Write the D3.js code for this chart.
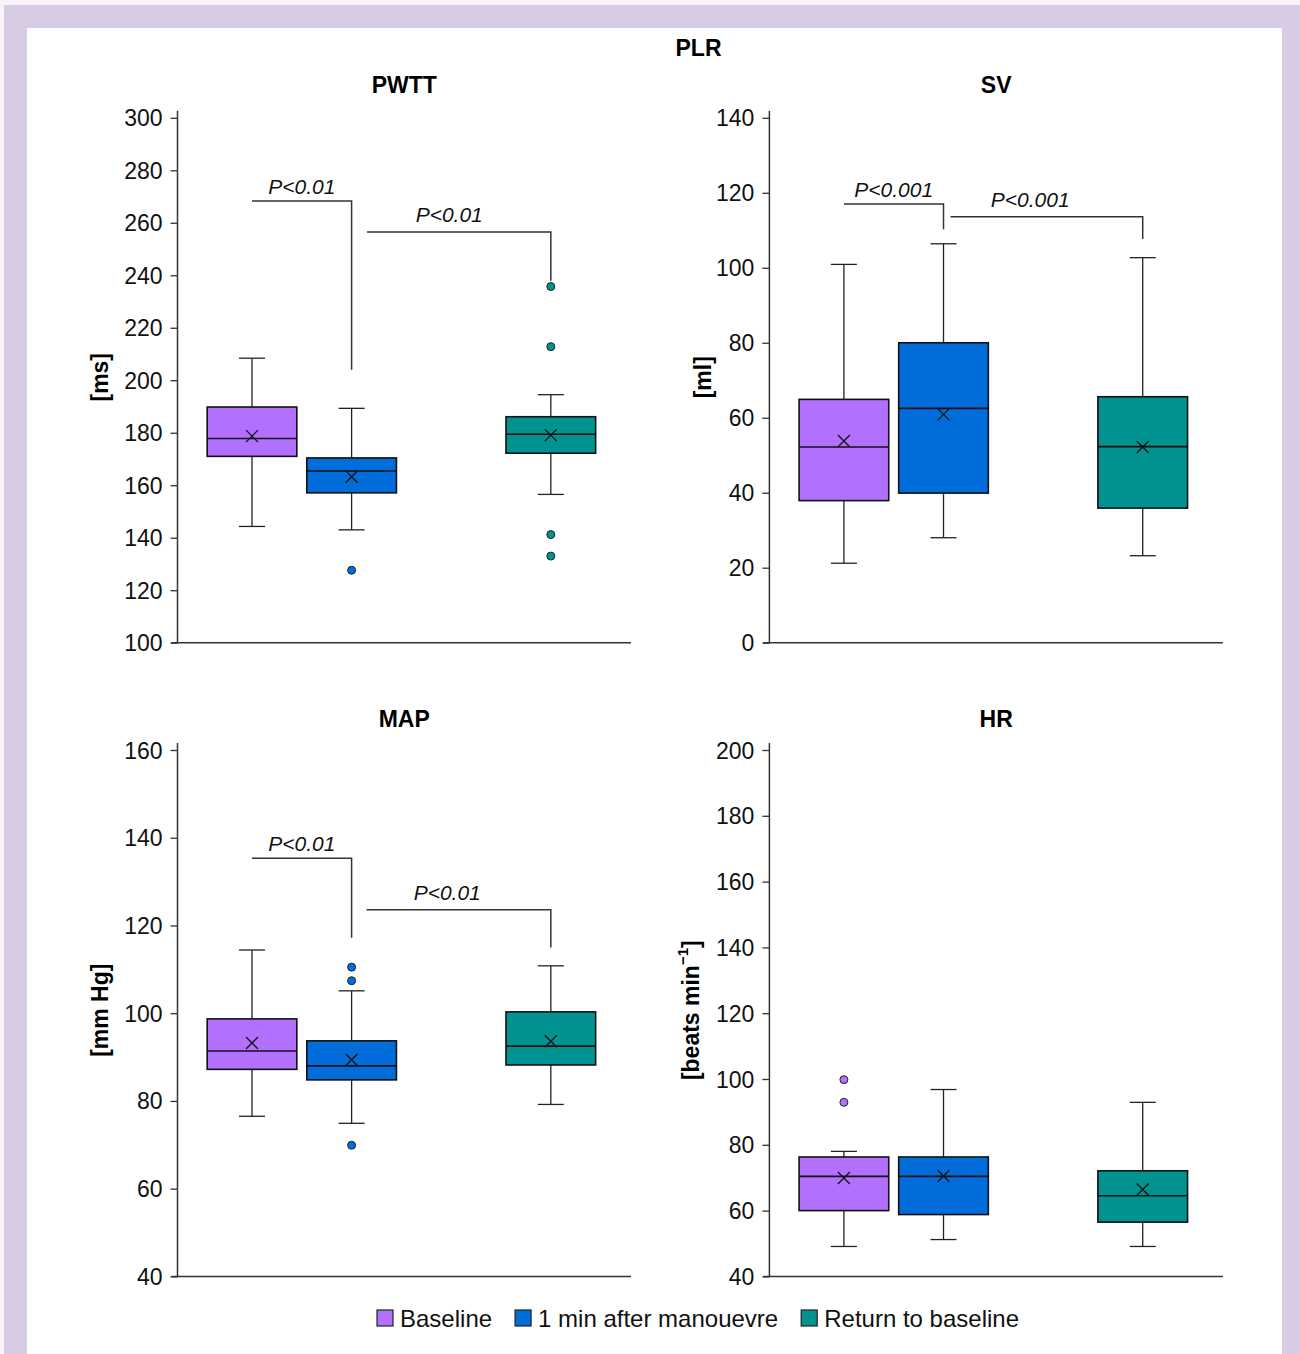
<!DOCTYPE html>
<html><head><meta charset="utf-8">
<script src="https://cdn.jsdelivr.net/npm/d3@7"></script>
<style>body{margin:0;background:#fff}svg{display:block}text{font-family:"Liberation Sans",Arial,sans-serif}</style>
</head><body><svg id="c" width="1300" height="1354"></svg>
<script>
// ---------- data ----------
const groups = ["Baseline", "1 min after manouevre", "Return to baseline"];
const groupPos = [0, 1, 3];
const groupColors = ["#b370fe", "#006ddb", "#00938f"];

const panelTitles = ["PWTT", "SV", "MAP", "HR"];
const panelUnits = ["[ms]", "[ml]", "[mm Hg]", "beats"];
const yDomains = [[100, 300], [0, 140], [40, 160], [40, 200]];
const yTicks = [
  [100,120,140,160,180,200,220,240,260,280,300],
  [0,20,40,60,80,100,120,140],
  [40,60,80,100,120,140,160],
  [40,60,80,100,120,140,160,180,200]
];
// box stats per group: [whiskerLow, Q1, median, Q3, whiskerHigh, mean]
const pwttStats = [[144.3,171,177.8,189.8,208.4,178.7],[143,157.1,165.4,170.4,189.3,163.2],[156.5,172.2,179.4,186.1,194.5,179.1]];
const svStats   = [[21.2,37.9,52.2,64.9,100.9,53.8],[28,39.9,62.5,80,106.4,60.9],[23.2,35.9,52.3,65.6,102.7,52.2]];
const mapStats  = [[76.5,87.2,91.4,98.7,114.4,93.2],[74.9,84.8,88,93.7,105.1,89.4],[79.2,88.2,92.5,100.3,110.8,93.6]];
const hrStats   = [[49.1,60,70.4,76.3,78,69.9],[51.2,58.8,70.4,76.3,96.8,70.5],[49.1,56.5,64.5,72.1,92.9,66.4]];
const pwttOutliers = [[], [127.6], [235.7,212.8,141.2,133]];
const svOutliers   = [[], [], []];
const mapOutliers  = [[], [110.5,107.4,69.9], []];
const hrOutliers   = [[99.8,92.9], [], []];
// significance brackets: x1, x2 (group units), y (level), yEnd (drop end), label, labelX, labelY
const pwttBrackets = [[0,1,268.3,204,"P<0.01",0.5,270.8],[1.155,3,256.5,237.9,"P<0.01",1.98,260.3]];
const svBrackets   = [[0,1,117,110.3,"P<0.001",0.5,118.9],[1.07,3,113.6,107.7,"P<0.001",1.87,116.2]];
const mapBrackets  = [[0,1,135.3,117.2,"P<0.01",0.5,137],[1.15,3,123.6,115,"P<0.01",1.96,125.8]];
const hrBrackets   = [];
const mainTitle = "PLR";

const allStats = [pwttStats, svStats, mapStats, hrStats];
const allOutliers = [pwttOutliers, svOutliers, mapOutliers, hrOutliers];
const allBrackets = [pwttBrackets, svBrackets, mapBrackets, hrBrackets];

// ---------- layout ----------
const svg = d3.select("#c");
svg.append("rect").attr("x",0).attr("y",0).attr("width",1300).attr("height",1354).attr("fill","#f7f3f9");
svg.append("rect").attr("x",4).attr("y",5).attr("width",1296).attr("height",1349).attr("fill","#d8cbe4");
svg.append("rect").attr("x",27).attr("y",28).attr("width",1255).attr("height",1326).attr("fill","#ffffff");

svg.append("text").attr("x",698.5).attr("y",56).attr("text-anchor","middle")
  .attr("font-size",23).attr("font-weight","bold").text(mainTitle);

const panels = [
  {ax:177.5, top:117.8, bottom:642.7, titleY:93, labX:100},
  {ax:769.4, top:117.8, bottom:642.7, titleY:93, labX:703},
  {ax:177.5, top:750, bottom:1276.4, titleY:727, labX:100},
  {ax:769.4, top:750, bottom:1276.4, titleY:727, labX:691}
];
const plotW = 453.5;
const axisColor = "#333";

panels.forEach((p, i) => {
  const g = svg.append("g").attr("transform", `translate(${p.ax},0)`);
  const x = d3.scaleLinear().domain([-0.748, 3.805]).range([0, plotW]);
  const y = d3.scaleLinear().domain(yDomains[i]).range([p.bottom, p.top]);

  // title
  g.append("text").attr("x", plotW/2).attr("y", p.titleY).attr("text-anchor","middle")
    .attr("font-size",23).attr("font-weight","bold").text(panelTitles[i]);

  // y axis
  const yAx = g.append("g").call(d3.axisLeft(y).tickValues(yTicks[i]).tickSize(7).tickPadding(8).tickSizeOuter(0));
  yAx.select(".domain").remove();
  yAx.selectAll(".tick line").attr("stroke", axisColor).attr("stroke-width",1.3);
  yAx.selectAll(".tick text").attr("font-size",23).attr("fill","#111")
    .attr("font-family",'"Liberation Sans",Arial,sans-serif').attr("dy","0.35em");
  g.append("line").attr("x1",0).attr("x2",0).attr("y1",p.top-7).attr("y2",p.bottom)
    .attr("stroke",axisColor).attr("stroke-width",1.5);
  g.append("line").attr("x1",-6).attr("x2",plotW).attr("y1",p.bottom).attr("y2",p.bottom)
    .attr("stroke",axisColor).attr("stroke-width",1.5);

  // y label
  const cy = (p.top + p.bottom)/2 - 3;
  const lab = svg.append("text").attr("transform",`translate(${p.labX},${cy}) rotate(-90)`)
    .attr("text-anchor","middle").attr("dominant-baseline","central")
    .attr("font-size",23).attr("font-weight","bold");
  if (panelUnits[i] === "beats") {
    lab.append("tspan").text("[beats min");
    lab.append("tspan").attr("font-size",15).attr("dy",-9).text("\u22121");
    lab.append("tspan").attr("dy",9).text("]");
  } else lab.text(panelUnits[i]);

  // boxes
  const bw = 0.9, capHalf = 13;
  allStats[i].forEach((s, k) => {
    const cx = x(groupPos[k]);
    const [lo, q1, med, q3, hi, mean] = s;
    const w = x(bw) - x(0);
    const gg = g.append("g");
    gg.append("line").attr("x1",cx).attr("x2",cx).attr("y1",y(hi)).attr("y2",y(q3)).attr("stroke","#222").attr("stroke-width",1.3);
    gg.append("line").attr("x1",cx).attr("x2",cx).attr("y1",y(q1)).attr("y2",y(lo)).attr("stroke","#222").attr("stroke-width",1.3);
    [hi, lo].forEach(v => gg.append("line").attr("x1",cx-capHalf).attr("x2",cx+capHalf).attr("y1",y(v)).attr("y2",y(v)).attr("stroke","#222").attr("stroke-width",1.3));
    gg.append("rect").attr("x",cx-w/2).attr("y",y(q3)).attr("width",w).attr("height",y(q1)-y(q3))
      .attr("fill",groupColors[k]).attr("stroke","#111").attr("stroke-width",1.6);
    gg.append("line").attr("x1",cx-w/2).attr("x2",cx+w/2).attr("y1",y(med)).attr("y2",y(med)).attr("stroke","#111").attr("stroke-width",1.6);
    const m = 6, my = y(mean);
    gg.append("path").attr("d",`M${cx-m},${my-m}L${cx+m},${my+m}M${cx-m},${my+m}L${cx+m},${my-m}`)
      .attr("stroke","#111").attr("stroke-width",1.3).attr("fill","none");
    allOutliers[i][k].forEach(v => gg.append("circle").attr("cx",cx).attr("cy",y(v)).attr("r",4)
      .attr("fill",groupColors[k]).attr("stroke","#222").attr("stroke-width",1));
  });

  // brackets
  allBrackets[i].forEach(b => {
    const [x1, x2, lvl, yEnd, label, lx, ly] = b;
    g.append("path").attr("d",`M${x(x1)},${y(lvl)}H${x(x2)}V${y(yEnd)}`)
      .attr("fill","none").attr("stroke","#333").attr("stroke-width",1.5);
    g.append("text").attr("x",x(lx)).attr("y",y(ly)).attr("text-anchor","middle")
      .attr("font-size",21).attr("font-style","italic").attr("fill","#111").text(label);
  });
});

// legend
const leg = svg.append("g");
let cur = 0;
groups.forEach((name, k) => {
  const it = leg.append("g").attr("transform",`translate(${cur},0)`);
  it.append("rect").attr("x",0).attr("y",-8).attr("width",16).attr("height",16)
    .attr("fill",groupColors[k]).attr("stroke","#222").attr("stroke-width",1.2);
  const t = it.append("text").attr("x",23).attr("y",8.5).attr("font-size",24).attr("fill","#111").text(name);
  const tw = t.node().getComputedTextLength();
  cur += 23 + tw + (k < groups.length-1 ? 23 : 0);
});
leg.attr("transform",`translate(${698 - cur/2},1318)`);
</script></body></html>
